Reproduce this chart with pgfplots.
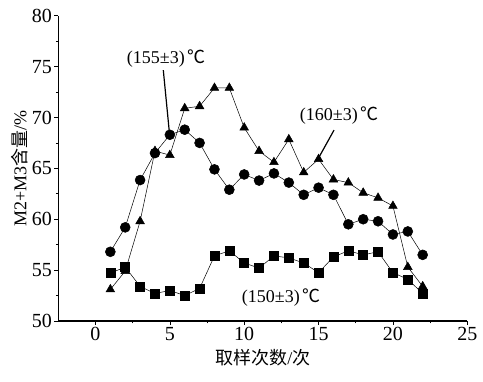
\documentclass[border=0pt]{standalone}
\usepackage{fontspec}
\setmainfont{Liberation Serif}
\newfontfamily\cjk{Noto Sans CJK SC}
\usepackage{pgfplots}
\pgfplotsset{compat=1.18}
\begin{document}
\begin{tikzpicture}
\begin{axis}[
  scale only axis, width=409pt, height=305.3pt,
  xmin=-2.5, xmax=25, ymin=50, ymax=80,
  axis x line*=bottom, axis y line*=left,
  axis line style={line width=1.3pt},
  xtick={0,5,10,15,20,25}, ytick={50,55,60,65,70,75,80},
  minor x tick num=1, minor y tick num=1,
  tick align=outside, major tick length=4pt, minor tick length=2.5pt,
  tick style={black, line width=0.6pt},
  /pgf/number format/assume math mode=true,
  ticklabel style={font=\fontsize{20}{22}\selectfont},
  yticklabel style={xshift=1pt},
  xticklabel style={yshift=1pt},
  xlabel={{\cjk 取样次数}/{\cjk 次}},
  ylabel={M2+M3{\cjk 含量}/\%},
  label style={font=\fontsize{18}{20}\selectfont},
  xlabel style={yshift=-1pt},
  ylabel style={yshift=-3pt},
  clip=false,
]
\coordinate (O) at (rel axis cs:0,0);
% 160 C triangles
\addplot[black, line width=0.5pt, mark=triangle*, mark size=5pt] coordinates {
(1,53.1)(2,54.9)(3,59.8)(4,66.7)(5,66.3)(6,70.9)(7,71.1)(8,72.9)(9,72.9)(10,69.0)
(11,66.7)(12,65.6)(13,67.85)(14,64.6)(15,65.9)(16,63.9)(17,63.6)(18,62.6)(19,62.1)(20,61.3)
(21,55.3)(22,53.4)};
% 155 C circles
\addplot[black, line width=0.5pt, mark=*, mark size=5pt] coordinates {
(1,56.8)(2,59.2)(3,63.85)(4,66.5)(5,68.3)(6,68.8)(7,67.5)(8,64.9)(9,62.9)(10,64.4)
(11,63.8)(12,64.5)(13,63.6)(14,62.4)(15,63.1)(16,62.4)(17,59.5)(18,60.0)(19,59.8)(20,58.5)
(21,58.8)(22,56.5)};
% 150 C squares
\addplot[black, line width=0.5pt, mark=square*, mark size=4.5pt] coordinates {
(1,54.7)(2,55.3)(3,53.4)(4,52.7)(5,53.0)(6,52.5)(7,53.2)(8,56.4)(9,56.9)(10,55.7)
(11,55.2)(12,56.4)(13,56.2)(14,55.7)(15,54.75)(16,56.3)(17,56.9)(18,56.5)(19,56.8)(20,54.75)
(21,54.1)(22,52.7)};
\node[font=\fontsize{18}{20}\selectfont] at (axis cs:4.77,75.8) {(155±3)\,{\cjk ℃}};
\draw[line width=1.2pt] (axis cs:4.56,74.65) -- (axis cs:4.97,68.5);
\node[font=\fontsize{18}{20}\selectfont] at (axis cs:16.4,70.2) {(160±3)\,{\cjk ℃}};
\draw[line width=1.2pt] (axis cs:16.04,68.76) -- (axis cs:15.03,66.1);
\node[font=\fontsize{18}{20}\selectfont] at (axis cs:12.5,52.26) {(150±3)\,{\cjk ℃}};
\end{axis}
\pgfresetboundingbox
\path (O) ++(-58.3pt,-61pt) rectangle ++(483pt,382pt);
\end{tikzpicture}
\end{document}
